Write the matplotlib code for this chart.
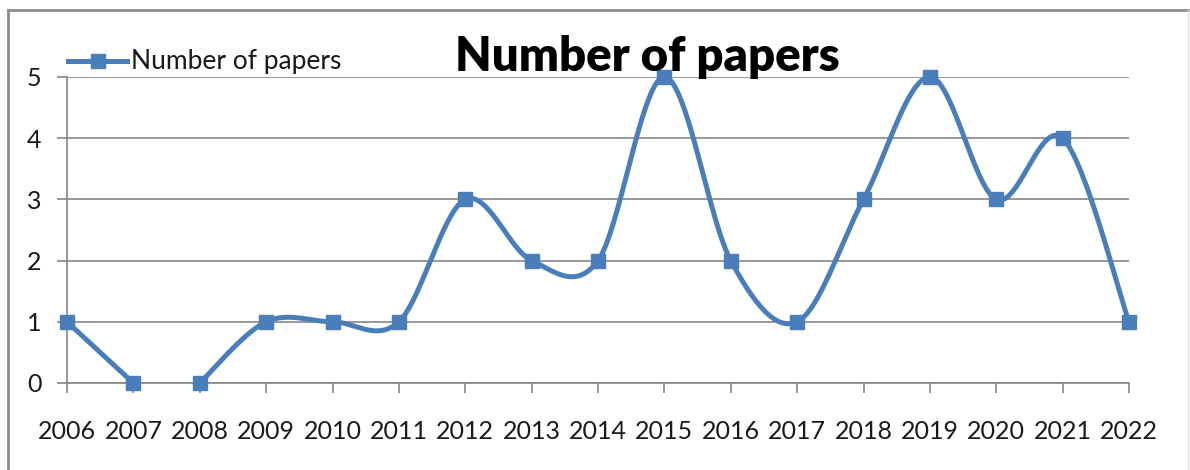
import numpy as np
import matplotlib.pyplot as plt
from matplotlib.lines import Line2D

years = [2006, 2007, 2008, 2009, 2010, 2011, 2012, 2013, 2014,
         2015, 2016, 2017, 2018, 2019, 2020, 2021, 2022]
papers = [1, 0, 0, 1, 1, 1, 3, 2, 2, 5, 2, 1, 3, 5, 3, 4, 1]
# the smoothed line is broken between these two pieces in the original
pieces = [(0, 2), (2, 17)]

blue = "#4a7ebb"
grey = "#868686"

plt.rcParams["font.family"] = ["Lato", "DejaVu Sans"]


def smooth(xs, ys, n=40):
    # Excel-like smoothing: cubic bezier, control points from neighbours / 6
    xs = np.asarray(xs, float)
    ys = np.asarray(ys, float)
    px, py = [], []
    for i in range(len(xs) - 1):
        i0 = max(i - 1, 0)
        i3 = min(i + 2, len(xs) - 1)
        c1x = xs[i] + (xs[i + 1] - xs[i0]) / 6
        c1y = ys[i] + (ys[i + 1] - ys[i0]) / 6
        c2x = xs[i + 1] - (xs[i3] - xs[i]) / 6
        c2y = ys[i + 1] - (ys[i3] - ys[i]) / 6
        t = np.linspace(0, 1, n)
        a, b, c, d = (1 - t) ** 3, 3 * t * (1 - t) ** 2, 3 * t ** 2 * (1 - t), t ** 3
        px.extend(a * xs[i] + b * c1x + c * c2x + d * xs[i + 1])
        py.extend(a * ys[i] + b * c1y + c * c2y + d * ys[i + 1])
    return px, py


fig = plt.figure(figsize=(11.9, 4.7), dpi=100)
ax = fig.add_axes([67 / 1190, 1 - 383 / 470, 1062 / 1190, 306 / 470])

for s, e in pieces:
    sx, sy = smooth(years[s:e], papers[s:e])
    ax.plot(sx, sy, color=blue, linewidth=3.6, solid_capstyle="round", zorder=3, clip_on=False)
ax.plot(years, papers, linestyle="none", marker="s", markersize=10.5,
        color=blue, zorder=4, clip_on=False)

ax.set_xlim(2006, 2022)
ax.set_ylim(0, 5)
ax.set_xticks(years)
ax.set_xticklabels([str(y) for y in years])
ax.set_yticks(range(6))

ax.grid(axis="y", color=grey, linewidth=1.2)
ax.set_axisbelow(True)
for side in ["top", "right"]:
    ax.spines[side].set_visible(False)
for side in ["left", "bottom"]:
    ax.spines[side].set_color(grey)
    ax.spines[side].set_linewidth(1.2)
ax.tick_params(axis="both", length=7.5, width=1.2, color=grey, labelsize=18, labelcolor="#1a1a1a")
ax.tick_params(axis="x", pad=19)
ax.tick_params(axis="y", pad=11)

fig.text(647 / 1190, 1 - 71 / 470, "Number of papers", ha="center", va="baseline",
         fontsize=34, fontweight="heavy", color="black")

# legend drawn by hand like the original
fig.add_artist(Line2D([68 / 1190, 127 / 1190], [1 - 61 / 470] * 2, color=blue, linewidth=3.6))
fig.add_artist(Line2D([97.5 / 1190], [1 - 61 / 470], color=blue, marker="s", markersize=10.5))
fig.text(131 / 1190, 1 - 61 / 470, "Number of papers", ha="left", va="center",
         fontsize=19, color="#1a1a1a")

# outer chart frame
fig.add_artist(Line2D([8 / 1190, 1188 / 1190], [1 - 10 / 470] * 2, color="#8c8c8c", linewidth=2))
fig.add_artist(Line2D([8 / 1190] * 2, [1 - 10 / 470, 0], color="#8c8c8c", linewidth=2))
fig.add_artist(Line2D([1188 / 1190] * 2, [1 - 10 / 470, 0], color="#e0e0e0", linewidth=1))

fig.savefig("out.png", dpi=100)
